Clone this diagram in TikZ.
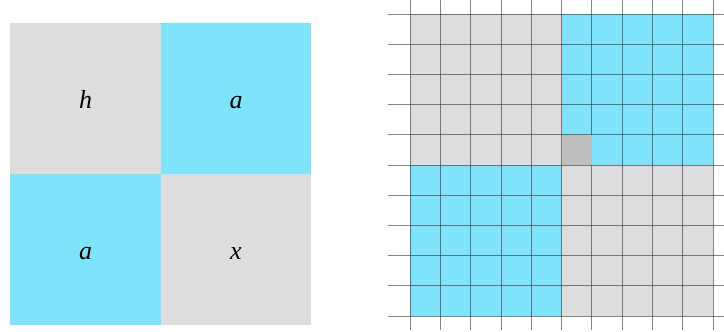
\documentclass[tikz,border=0pt]{standalone}
\usepackage{tikz}
\usepackage{xcolor}
\usepackage{fontspec}
\setmainfont{Liberation Serif}
\definecolor{cinza}{RGB}{221,221,221}
\definecolor{ciano}{RGB}{128,227,252}
\definecolor{cinzaesc}{RGB}{190,190,190}
\definecolor{linha}{RGB}{50,50,50}

\begin{document}
\begin{tikzpicture}[x=1pt, y=-1pt,
    celda/.style={minimum size=150.5pt, inner sep=0pt, outer sep=0pt, text height=19pt, text depth=0pt,
      font=\fontsize{26}{30}\selectfont\itshape},
    grade/.style={draw=linha, line width=0.8pt, opacity=0.6}]
    \useasboundingbox (0,0) rectangle (724,332);
    \node[celda, fill=cinza] (celh) at (85.5,98.5) {h};
    \node[celda, fill=ciano] (cela) at (236,98.5) {a};
    \node[celda, fill=ciano] (celb) at (85.5,249.5) {a};
    \node[celda, fill=cinza] (celx) at (236,249.5) {x};
    \fill[cinza] (410,14) rectangle (713,316);
    \fill[ciano] (561.5,14) rectangle (713,165);
    \fill[ciano] (410,165) rectangle (561.5,316);
    \foreach \i in {0,...,10} {
      \draw[grade] (410+30.3*\i,0) -- (410+30.3*\i,330);
      \draw[grade] (388,14+30.2*\i) -- (724,14+30.2*\i);
    }
    \fill[cinzaesc] (561.5,134.5) rectangle (591.8,165);
  \end{tikzpicture}
\end{document}
